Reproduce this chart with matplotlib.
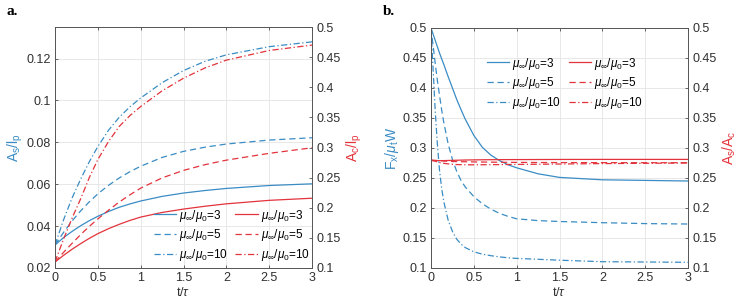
import matplotlib
matplotlib.use("Agg")
import matplotlib.pyplot as plt

# --- data ---------------------------------------------------------------------
# panel a: A_s/l_p (left axis, blue) and A_c/l_p (right axis, red) vs t/tau
t_a = [0, 0.1, 0.2, 0.3, 0.4, 0.5, 0.625, 0.75, 0.875, 1.0, 1.25, 1.5, 1.75,
       2.0, 2.5, 3.0]
as_3 = [0.031, 0.0345, 0.0375, 0.0402, 0.0426, 0.0447, 0.047, 0.049, 0.0506,
        0.052, 0.0542, 0.0558, 0.057, 0.058, 0.0594, 0.0602]
as_5 = [0.031, 0.037, 0.0425, 0.0473, 0.0516, 0.0554, 0.0595, 0.063, 0.066,
        0.0686, 0.0728, 0.0757, 0.0777, 0.0792, 0.0811, 0.0822]
as_10 = [0.031, 0.043, 0.0535, 0.0625, 0.0707, 0.078, 0.0858, 0.092, 0.097,
         0.1012, 0.1085, 0.1143, 0.1187, 0.1218, 0.1257, 0.128]
ac_3 = [0.11, 0.121, 0.1312, 0.1405, 0.1492, 0.157, 0.1653, 0.1725, 0.179,
        0.1845, 0.1922, 0.1978, 0.2025, 0.2065, 0.2123, 0.2158]
ac_5 = [0.11, 0.126, 0.141, 0.1555, 0.169, 0.1815, 0.196, 0.2095, 0.2215,
        0.2325, 0.2495, 0.262, 0.2715, 0.279, 0.2903, 0.2995]
ac_10 = [0.11, 0.148, 0.183, 0.215, 0.25, 0.28, 0.31, 0.335, 0.353, 0.368,
         0.394, 0.415, 0.432, 0.445, 0.461, 0.47]

# panel b: F_x/mu_t W (left axis, blue) and A_s/A_c (right axis, red)
t_b = [0, 0.025, 0.05, 0.075, 0.1, 0.125, 0.15, 0.2, 0.25, 0.3, 0.35, 0.4,
       0.5, 0.6, 0.7, 0.8, 0.9, 1.0, 1.25, 1.5, 2.0, 2.5, 3.0]
fx_3 = [0.5, 0.4895, 0.479, 0.4685, 0.458, 0.4485, 0.439, 0.419, 0.4, 0.381,
        0.364, 0.348, 0.321, 0.301, 0.288, 0.279, 0.272, 0.267, 0.257, 0.251,
        0.247, 0.246, 0.245]
fx_5 = [0.5, 0.47, 0.44, 0.412, 0.387, 0.363, 0.342, 0.307, 0.281, 0.261,
        0.246, 0.235, 0.219, 0.207, 0.198, 0.191, 0.186, 0.182, 0.179, 0.1775,
        0.1755, 0.174, 0.1733]
fx_10 = [0.5, 0.43, 0.36, 0.305, 0.262, 0.232, 0.21, 0.18, 0.161, 0.148,
         0.14, 0.134, 0.127, 0.123, 0.1205, 0.1185, 0.117, 0.116, 0.1145,
         0.113, 0.1105, 0.11, 0.1095]
ratio_3 = [0.279, 0.279, 0.279, 0.279, 0.279, 0.279, 0.279, 0.2792, 0.2794,
           0.2796, 0.2798, 0.28, 0.2802, 0.2804, 0.2805, 0.2806, 0.2807,
           0.2807, 0.2808, 0.2809, 0.281, 0.281, 0.281]
ratio_5 = [0.28, 0.2797, 0.2794, 0.2791, 0.2788, 0.2786, 0.2783, 0.2779,
           0.2776, 0.2774, 0.2772, 0.2771, 0.2768, 0.2766, 0.2764, 0.2762,
           0.2761, 0.276, 0.2758, 0.2757, 0.2756, 0.2755, 0.2755]
ratio_10 = [0.28, 0.279, 0.278, 0.2768, 0.2758, 0.2751, 0.2745, 0.2735,
            0.2728, 0.2724, 0.2722, 0.272, 0.272, 0.2721, 0.2722, 0.2723,
            0.2725, 0.2726, 0.2729, 0.2733, 0.274, 0.2745, 0.275]

legend_labels = [r"$\mu_\infty/\mu_0$=3", r"$\mu_\infty/\mu_0$=5",
                 r"$\mu_\infty/\mu_0$=10"]
x_ticks = [0, 0.5, 1, 1.5, 2, 2.5, 3]
x_ticklabels = ["0", "0.5", "1", "1.5", "2", "2.5", "3"]

BLUE = "#3a8cc4"
RED = "#e3333c"
INK = "#303030"
GRID = "#e4e4e4"
STYLES = ["-", (0, (5, 3)), (0, (5, 2, 1, 2))]

plt.rcParams.update({
    "font.family": ["Liberation Sans", "DejaVu Sans"],
    "mathtext.fontset": "custom",
    "mathtext.rm": "Liberation Sans",
    "mathtext.it": "Liberation Sans:italic",
    "font.size": 9,
    "axes.linewidth": 0.6,
    "axes.edgecolor": "#555555",
    "xtick.color": INK, "ytick.color": INK,
    "xtick.direction": "in", "ytick.direction": "in",
    "xtick.major.size": 2.5, "ytick.major.size": 2.5,
    "xtick.major.width": 0.5, "ytick.major.width": 0.5,
})


def fmt(v):
    return f"{v:.3g}"


def panel(rect, t, left, right, lticks, rticks, llim, rlim, lname, rname,
          tag, leg_loc, leg_anchor):
    ax = fig.add_axes(rect)
    ax2 = ax.twinx()
    hb, hr = [], []
    for ys, ls in zip(left, STYLES):
        h, = ax.plot(t, ys, color=BLUE, lw=0.9, linestyle=ls)
        hb.append(h)
    for ys, ls in zip(right, STYLES):
        h, = ax2.plot(t, ys, color=RED, lw=0.9, linestyle=ls)
        hr.append(h)
    ax.set_xlim(0, 3)
    ax.set_ylim(*llim)
    ax2.set_ylim(*rlim)
    ax.set_xticks(x_ticks)
    ax.set_xticklabels(x_ticklabels)
    ax.set_yticks(lticks)
    ax.set_yticklabels([fmt(v) for v in lticks])
    ax2.set_yticks(rticks)
    ax2.set_yticklabels([fmt(v) for v in rticks])
    ax.grid(True, color=GRID, lw=0.6)
    ax.set_axisbelow(True)
    ax.tick_params(top=True, labelsize=9, pad=3)
    ax2.tick_params(labelsize=9, pad=3)
    ax.set_xlabel(r"t/$\tau$", color=INK, labelpad=1)
    ax.set_ylabel(lname, color=BLUE, fontsize=10, labelpad=1)
    ax2.set_ylabel(rname, color=RED, fontsize=10, labelpad=3)
    ax2.legend(hb + hr, legend_labels * 2, ncol=2, frameon=False,
               loc=leg_loc, bbox_to_anchor=leg_anchor, fontsize=8.5,
               handlelength=1.9, handletextpad=0.25, columnspacing=0.6,
               labelspacing=0.32, borderaxespad=0, borderpad=0)
    fig.text(rect[0] - 0.065, 0.94, tag, fontsize=11, fontweight="bold",
             family=["Liberation Serif", "DejaVu Serif"], ha="left",
             va="bottom")
    return ax, ax2


fig = plt.figure(figsize=(7.39, 3.04), dpi=100)

panel([55 / 739, 36 / 304, 257 / 739, 241 / 304], t_a,
      [as_3, as_5, as_10], [ac_3, ac_5, ac_10],
      [0.02, 0.04, 0.06, 0.08, 0.1, 0.12],
      [0.1, 0.15, 0.2, 0.25, 0.3, 0.35, 0.4, 0.45, 0.5],
      (0.02, 0.1351), (0.1, 0.5),
      r"A$_\mathrm{s}$/l$_\mathrm{p}$", r"A$_\mathrm{c}$/l$_\mathrm{p}$",
      "a.", "lower left", (0.385, 0.02))

panel([431 / 739, 36 / 304, 257 / 739, 240 / 304], t_b,
      [fx_3, fx_5, fx_10], [ratio_3, ratio_5, ratio_10],
      [0.1, 0.15, 0.2, 0.25, 0.3, 0.35, 0.4, 0.45, 0.5],
      [0.1, 0.15, 0.2, 0.25, 0.3, 0.35, 0.4, 0.45, 0.5],
      (0.1, 0.5), (0.1, 0.5),
      r"F$_\mathrm{x}$/$\mu_\mathrm{t}$W", r"A$_\mathrm{s}$/A$_\mathrm{c}$",
      "b.", "upper left", (0.218, 0.885))

fig.savefig("out.png", dpi=100)
